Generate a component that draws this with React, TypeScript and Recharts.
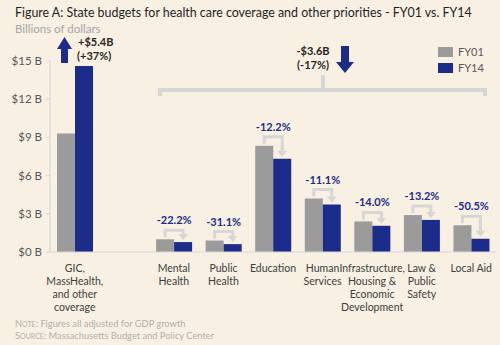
import React from 'react';
import { BarChart, Bar, XAxis, YAxis, LabelList } from 'recharts';

const categories = [
  'GIC,\nMassHealth,\nand other\ncoverage',
  '',
  'Mental\nHealth',
  'Public\nHealth',
  'Education',
  'Human\nServices',
  'Infrastructure,\nHousing &\nEconomic\nDevelopment',
  'Law &\nPublic\nSafety',
  'Local Aid',
];
const fy01: (number | null)[] = [9.3, null, 1.0, 0.9, 8.35, 4.2, 2.4, 2.9, 2.1];
const fy14: (number | null)[] = [14.6, null, 0.78, 0.62, 7.33, 3.73, 2.06, 2.52, 1.04];
const changeLabels: (string | null)[] = [null, null, '-22.2%', '-31.1%', '-12.2%', '-11.1%', '-14.0%', '-13.2%', '-50.5%'];
const yTicks = [0, 3, 6, 9, 12, 15];

const data = categories.map((c, i) => ({ name: c, FY01: fy01[i], FY14: fy14[i], idx: i }));

const BG = '#F8F0E3';
const GRAY = '#9B9B9B';
const NAVY = '#1B2C8A';
const LIGHT = '#D6D6D6';
const FONT = 'Lato, "Open Sans", sans-serif';

const CatTick = (props: any) => {
  const { x, y, payload } = props;
  const lines = String(payload.value).split('\n');
  return (
    <text x={x} y={y} textAnchor="middle" fontFamily={FONT} fontSize={10.5} fill="#404040">
      {lines.map((l, i) => (
        <tspan key={i} x={x} dy={i === 0 ? 20 : 13}>
          {l}
        </tspan>
      ))}
    </text>
  );
};

const ChangeBracket = (props: any) => {
  const { x, y, width, height, value } = props;
  const index = Number(value);
  const label = changeLabels[index];
  const a = fy01[index];
  const b = fy14[index];
  if (!label || a == null || b == null) return null;
  const ratio = b / a;
  const gx = x + width / 2;
  const bx = x + width * 1.5;
  const gTop = y;
  const bTop = y + height - height * ratio;
  const top = Math.min(gTop, bTop) - 9;
  return (
    <g>
      <path
        d={`M${gx} ${gTop - 2} V${top} H${bx} V${bTop - 8}`}
        stroke={LIGHT}
        strokeWidth={3}
        fill="none"
      />
      <polygon points={`${bx - 5},${bTop - 8} ${bx + 5},${bTop - 8} ${bx},${bTop - 2}`} fill={LIGHT} />
      <text
        x={x + width}
        y={top - 6}
        textAnchor="middle"
        fontFamily={FONT}
        fontSize={11}
        fontWeight="bold"
        fill={NAVY}
      >
        {label}
      </text>
    </g>
  );
};

export default function App() {
  return (
    <div style={{ position: 'absolute', left: 0, top: 0, width: 500, height: 345, background: BG }}>
      <BarChart
        width={500}
        height={345}
        data={data}
        margin={{ top: 61, right: 4, left: 0, bottom: 63 }}
        barCategoryGap={7}
        barGap={0}
      >
        <XAxis
          dataKey="name"
          height={30}
          interval={0}
          tickLine={false}
          tickSize={0}
          tickMargin={0}
          axisLine={{ stroke: LIGHT }}
          tick={<CatTick />}
        />
        <YAxis
          width={50}
          domain={[0, 15]}
          ticks={yTicks}
          tickFormatter={(v: number) => `$${v} B`}
          tick={{ fill: '#595959', fontSize: 11.5, fontFamily: FONT }}
          axisLine={{ stroke: LIGHT }}
          tickLine={{ stroke: LIGHT }}
          tickSize={4}
          tickMargin={4}
        />
        <Bar dataKey="FY01" fill={GRAY} isAnimationActive={false}>
          <LabelList dataKey="idx" content={<ChangeBracket />} />
        </Bar>
        <Bar dataKey="FY14" fill={NAVY} isAnimationActive={false} />
      </BarChart>
      <svg
        width={500}
        height={345}
        style={{ position: 'absolute', left: 0, top: 0, pointerEvents: 'none' }}
        fontFamily={FONT}
      >
        <text x={15} y={17} fontSize={12.4} fill="#1F1F1F">
          Figure A: State budgets for health care coverage and other priorities - FY01 vs. FY14
        </text>
        <text x={15} y={33} fontSize={11.5} fill="#A6A6A6">
          Billions of dollars
        </text>
        {/* GIC up arrow */}
        <polygon points="61,63 68,63 68,49 72,49 64.5,37 57,49 61,49" fill={NAVY} />
        <text x={78} y={46} fontSize={11} fontWeight="bold" fill="#262626">
          +$5.4B
        </text>
        <text x={77} y={60} fontSize={11} fontWeight="bold" fill="#262626">
          (+37%)
        </text>
        {/* big bracket */}
        <path d="M160 96 V90 H485 V96" stroke={LIGHT} strokeWidth={4} fill="none" />
        <path d="M323 90 V75" stroke={LIGHT} strokeWidth={4} fill="none" />
        <text x={313} y={55} textAnchor="middle" fontSize={11} fontWeight="bold" fill="#262626">
          -$3.6B
        </text>
        <text x={313} y={69} textAnchor="middle" fontSize={11} fontWeight="bold" fill="#262626">
          (-17%)
        </text>
        <polygon points="341,46 349,46 349,62 354,62 345,73 336,62 341,62" fill={NAVY} />
        {/* legend */}
        <rect x={438} y={47} width={15} height={10} fill={GRAY} />
        <text x={458} y={56} fontSize={11} fill="#595959">
          FY01
        </text>
        <rect x={438} y={63} width={15} height={10} fill={NAVY} />
        <text x={458} y={72} fontSize={11} fill="#595959">
          FY14
        </text>
        {/* notes */}
        <text x={15} y={327} fontSize={9.3} fill="#B0B0B0">
          N<tspan fontSize={7}>OTE</tspan>: Figures all adjusted for GDP growth
        </text>
        <text x={15} y={339} fontSize={9.3} fill="#B0B0B0">
          S<tspan fontSize={7}>OURCE</tspan>: Massachusetts Budget and Policy Center
        </text>
      </svg>
    </div>
  );
}
